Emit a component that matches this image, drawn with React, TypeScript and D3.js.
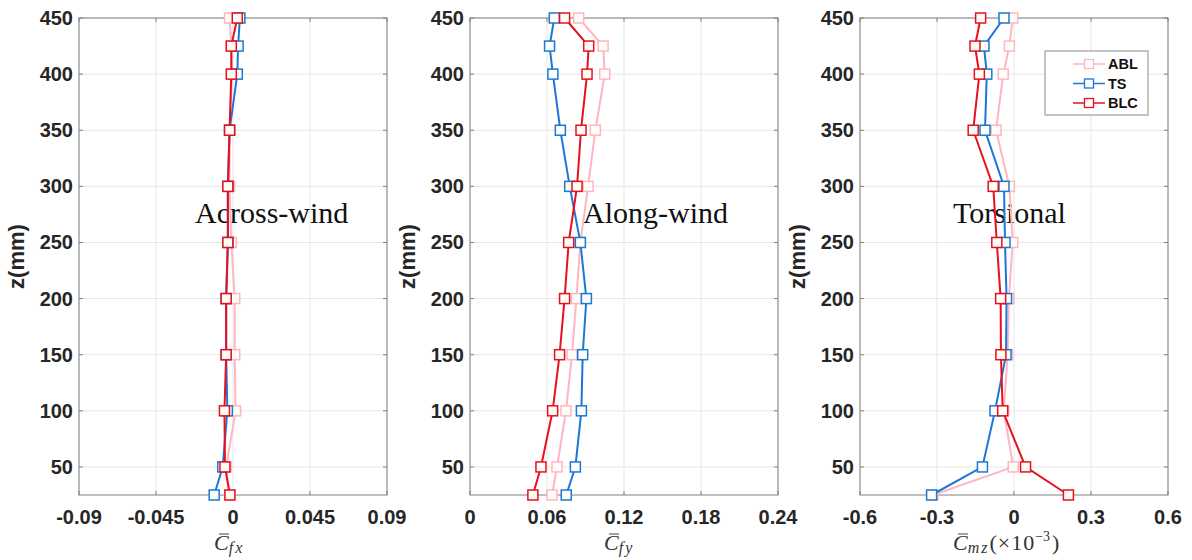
import React from "react";
import * as d3 from "d3";

const zLevels = [25, 50, 100, 150, 200, 250, 300, 350, 400, 425, 450];

const acrossABL = [-0.002, -0.004, 0.0015, 0.001, 0.001, -0.001, -0.002, -0.002, -0.0005, -0.001, -0.002];
const acrossTS = [-0.011, -0.006, -0.0033, -0.004, -0.004, -0.003, -0.003, -0.002, 0.0025, 0.003, 0.004];
const acrossBLC = [-0.0018, -0.0047, -0.005, -0.004, -0.004, -0.003, -0.003, -0.002, -0.001, -0.001, 0.0025];

const alongABL = [0.0639, 0.0678, 0.0748, 0.0795, 0.0829, 0.086, 0.092, 0.0977, 0.105, 0.1037, 0.0847];
const alongTS = [0.075, 0.0821, 0.0868, 0.0878, 0.0907, 0.086, 0.0777, 0.0704, 0.0646, 0.062, 0.0657];
const alongBLC = [0.049, 0.0553, 0.0644, 0.0698, 0.0737, 0.0769, 0.0834, 0.0865, 0.0912, 0.0925, 0.0737];

const torsABL = [-0.315, -0.003, -0.04, -0.025, -0.02, -0.005, -0.018, -0.07, -0.042, -0.018, -0.005];
const torsTS = [-0.321, -0.123, -0.074, -0.031, -0.029, -0.035, -0.039, -0.113, -0.106, -0.117, -0.039];
const torsBLC = [0.212, 0.045, -0.044, -0.051, -0.052, -0.067, -0.081, -0.159, -0.135, -0.152, -0.13];

const yTicks = [50, 100, 150, 200, 250, 300, 350, 400, 450];
const acrossTicks = [-0.09, -0.045, 0, 0.045, 0.09];
const alongTicks = [0, 0.06, 0.12, 0.18, 0.24];
const torsTicks = [-0.6, -0.3, 0, 0.3, 0.6];

const seriesNames = ["ABL", "TS", "BLC"];
const seriesColors = ["#FFB6C1", "#1C78D6", "#E8101C"];

const panels = [
  { left: 79, domain: [-0.09, 0.09], ticks: acrossTicks, tickLabels: ["-0.09", "-0.045", "0", "0.045", "0.09"], data: [acrossABL, acrossTS, acrossBLC], title: "Across-wind", titleX: 195, sub: "fx", extra: "", labelStart: 214 },
  { left: 470, domain: [0, 0.24], ticks: alongTicks, tickLabels: ["0", "0.06", "0.12", "0.18", "0.24"], data: [alongABL, alongTS, alongBLC], title: "Along-wind", titleX: 583, sub: "fy", extra: "", labelStart: 604 },
  { left: 860, domain: [-0.6, 0.6], ticks: torsTicks, tickLabels: ["-0.6", "-0.3", "0", "0.3", "0.6"], data: [torsABL, torsTS, torsBLC], title: "Torsional", titleX: 953, sub: "mz", extra: "(×10", labelStart: 953 },
];

const W = 308;
const TOP = 18;
const BOTTOM = 495;
const MS = 10;

function Panel({ p }: { p: any }) {
  const x = d3.scaleLinear().domain(p.domain).range([p.left, p.left + W]);
  const y = d3.scaleLinear().domain([25, 450]).range([BOTTOM, TOP]);
  const line = d3
    .line<number>()
    .x((d) => x(d))
    .y((_, i) => y(zLevels[i]));
  const ls = p.labelStart;
  return (
    <g>
      {p.ticks.map((t: number, i: number) => (
        <line key={"gx" + i} x1={x(t)} x2={x(t)} y1={TOP} y2={BOTTOM} stroke="#e6e6e6" strokeWidth={1} />
      ))}
      {yTicks.map((t, i) => (
        <line key={"gy" + i} x1={p.left} x2={p.left + W} y1={y(t)} y2={y(t)} stroke="#e6e6e6" strokeWidth={1} />
      ))}
      {p.ticks.map((t: number, i: number) => (
        <g key={"tx" + i}>
          <line x1={x(t)} x2={x(t)} y1={BOTTOM} y2={BOTTOM - 4} stroke="#808080" />
          <line x1={x(t)} x2={x(t)} y1={TOP} y2={TOP + 4} stroke="#808080" />
        </g>
      ))}
      {yTicks.map((t, i) => (
        <g key={"ty" + i}>
          <line x1={p.left} x2={p.left + 4} y1={y(t)} y2={y(t)} stroke="#808080" />
          <line x1={p.left + W} x2={p.left + W - 4} y1={y(t)} y2={y(t)} stroke="#808080" />
        </g>
      ))}
      <rect x={p.left} y={TOP} width={W} height={BOTTOM - TOP} fill="none" stroke="#808080" strokeWidth={1} />
      <text x={p.titleX} y={223} fontFamily="'Liberation Serif', 'Times New Roman', serif" fontSize={30} fill="#111">
        {p.title}
      </text>
      {p.data.map((vals: number[], s: number) => (
        <g key={"s" + s}>
          <path d={line(vals) || ""} fill="none" stroke={seriesColors[s]} strokeWidth={2} />
          {vals.map((v, i) => (
            <rect
              key={i}
              x={x(v) - MS / 2}
              y={y(zLevels[i]) - MS / 2}
              width={MS}
              height={MS}
              fill="#fffdf8"
              stroke={seriesColors[s]}
              strokeWidth={1.5}
            />
          ))}
        </g>
      ))}
      {p.ticks.map((t: number, i: number) => (
        <text key={"lx" + i} x={x(t)} y={524} textAnchor="middle" fontFamily="'Liberation Sans', Arial, sans-serif" fontWeight="bold" fontSize={20} fill="#262626">
          {p.tickLabels[i]}
        </text>
      ))}
      {yTicks.map((t, i) => (
        <text key={"ly" + i} x={p.left - 6} y={y(t) + 7} textAnchor="end" fontFamily="'Liberation Sans', Arial, sans-serif" fontWeight="bold" fontSize={20} fill="#262626">
          {t}
        </text>
      ))}
      <text
        transform={`translate(${p.left - 55},${(TOP + BOTTOM) / 2}) rotate(-90)`}
        textAnchor="middle"
        fontFamily="'Liberation Sans', Arial, sans-serif"
        fontWeight="bold"
        fontSize={22}
        fill="#262626"
      >
        z(mm)
      </text>
      <line x1={ls + 5} x2={ls + 15} y1={534} y2={534} stroke="#444" strokeWidth={1} />
      <text x={ls} y={550} textAnchor="start" fontFamily="'Liberation Serif', 'Times New Roman', serif" fontSize={22} fill="#333">
        <tspan fontStyle="italic">C</tspan>
        <tspan fontStyle="italic" fontSize={16} dy={3} letterSpacing={2}>{p.sub}</tspan>
        {p.extra ? (
          <>
            <tspan dy={-3} fontSize={22} letterSpacing={1}>{p.extra}</tspan>
            <tspan fontSize={14} dy={-9}>−3</tspan>
            <tspan fontSize={22} dy={9} dx={2}>)</tspan>
          </>
        ) : null}
      </text>
    </g>
  );
}

function Legend() {
  const lx = 1045;
  const ly = 51;
  const rows = [64, 83.5, 103];
  return (
    <g>
      <rect x={lx} y={ly} width={103} height={64} fill="#fff" stroke="#8c8c8c" strokeWidth={1} />
      {seriesNames.map((n, i) => (
        <g key={n}>
          <line x1={1073} x2={1105} y1={rows[i]} y2={rows[i]} stroke={seriesColors[i]} strokeWidth={1.5} />
          <rect x={1089 - 4.5} y={rows[i] - 4.5} width={9} height={9} fill="#fff" stroke={seriesColors[i]} strokeWidth={1.3} />
          <text x={1108} y={rows[i] + 5} fontFamily="'Liberation Sans', Arial, sans-serif" fontWeight="bold" fontSize={14.5} fill="#111">
            {n}
          </text>
        </g>
      ))}
    </g>
  );
}

export default function App() {
  return (
    <svg width={1192} height={560} style={{ position: "absolute", left: 0, top: 0, background: "#fff" }}>
      <rect x={0} y={0} width={1192} height={560} fill="#fff" />
      {panels.map((p, i) => (
        <Panel key={i} p={p} />
      ))}
      <Legend />
    </svg>
  );
}
